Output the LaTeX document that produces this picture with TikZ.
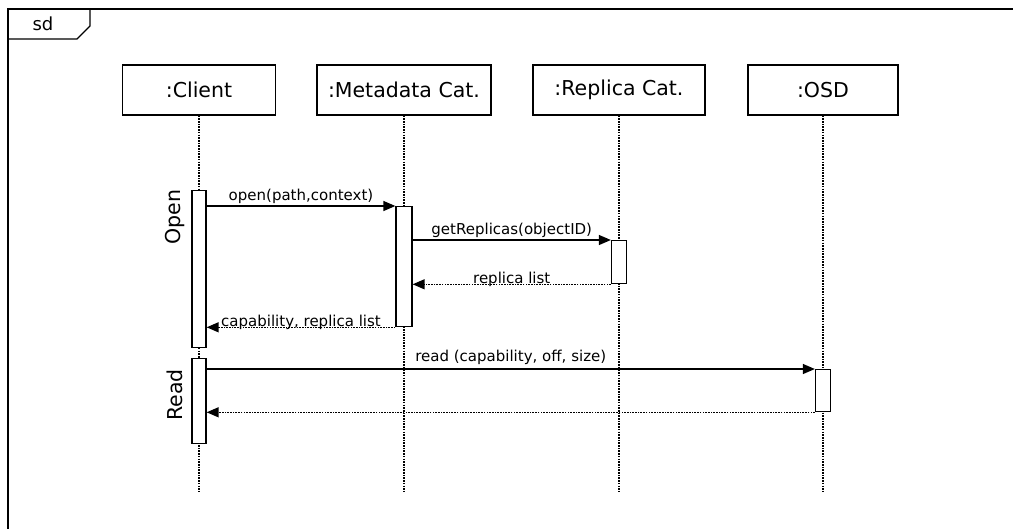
\documentclass[tikz,border=0pt]{standalone}
\usepackage{fontspec}
\setmainfont{DejaVu Sans}
\usetikzlibrary{arrows.meta,positioning,calc}
\tikzset{
  lifehead/.style={rectangle, draw=black, line width=1.3pt, fill=white,
                   inner sep=0pt, minimum height=50pt,
                   font=\fontsize{20.5}{24}\selectfont},
  actbar/.style={rectangle, draw=black, line width=1.3pt, fill=white,
                 inner sep=0pt, minimum width=14pt, anchor=north},
  lifeline/.style={line width=1.5pt, dash pattern=on 1.6pt off 1.1pt},
  call/.style={-{Triangle[length=12pt,width=10pt]}, line width=1.3pt},
  reply/.style={-{Triangle[length=12pt,width=10pt]}, line width=1.4pt,
                dash pattern=on 1.6pt off 1.1pt},
  msg/.style={font=\fontsize{15}{18}\selectfont, inner sep=2pt},
  phase/.style={rotate=90, font=\fontsize{20.5}{24}\selectfont}
}
\begin{document}
\begin{tikzpicture}[x=1pt, y=-1pt]
\useasboundingbox (0,0) rectangle (1013,528);
\draw[line width=1.4pt] (8,532) -- (8,9) -- (1016,9);
\draw[line width=1.3pt] (8,39) -- (77,39) -- (90,26) -- (90,9);
\node[font=\fontsize{18}{21}\selectfont] (sdlbl) at (43,24) {sd};

\node[lifehead, minimum width=153pt] (client) at (199,90) {:Client};
\node[lifehead, minimum width=174pt] (meta) at (404,90) {:Metadata Cat.};
\node[lifehead, minimum width=172pt] (replica) at (619,90) {:Replica Cat.};
\node[lifehead, minimum width=150pt] (osd) at (823,90) {:OSD};

\coordinate (bottom) at (0,492);
\foreach \n in {client,meta,replica,osd}
  \draw[lifeline] (\n.south) -- (\n |- bottom);

\node[actbar, minimum height=157pt] (openbar) at (199,190) {};
\node[actbar, minimum height=85pt] (readbar) at (199,358) {};
\node[actbar, minimum width=16pt, minimum height=120pt] (metabar) at (404,206) {};
\node[actbar, minimum width=15pt, minimum height=43pt] (repbar) at (619,240) {};
\node[actbar, minimum width=15pt, minimum height=42pt] (osdbar) at (823,369) {};

\node[phase] (openlbl) at (175,217) {Open};
\node[phase] (readlbl) at (175,395) {Read};

\draw[call] (openbar.east |- metabar.north) -- node[msg, above] {open(path,context)} (metabar.north west);
\draw[call] (metabar.east |- repbar.north) -- node[msg, above] {getReplicas(objectID)} (repbar.north west);
\draw[reply] (repbar.south west) -- node[msg, anchor=base, inner sep=0pt, yshift=1pt] {replica list} (metabar.east |- repbar.south);
\draw[reply] (metabar.south west) -- node[msg, anchor=base, inner sep=0pt, yshift=1pt] {capability, replica list} (openbar.east |- metabar.south);
\draw[call] (readbar.east |- osdbar.north) -- node[msg, above, inner sep=4pt] {read (capability, off, size)} (osdbar.north west);
\draw[reply] (osdbar.south west) -- (readbar.east |- osdbar.south);
\end{tikzpicture}
\end{document}
